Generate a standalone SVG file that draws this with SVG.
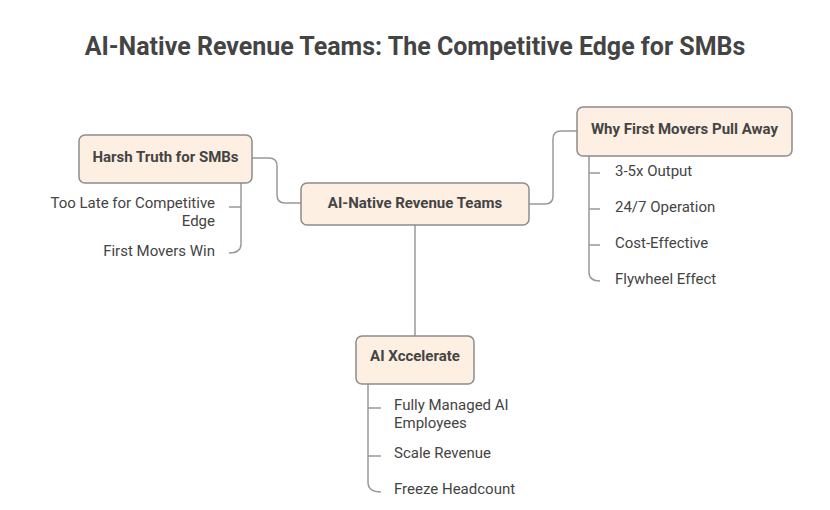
<svg xmlns="http://www.w3.org/2000/svg" width="830" height="510" viewBox="0 0 830 510">
<style>
.title{font-family:Roboto,"Liberation Sans",sans-serif;font-size:25px;font-weight:bold;fill:#444;text-anchor:middle}
.box{fill:#fdefe2;stroke:#8c8c8c;stroke-width:1.5}
.lbl{font-family:Roboto,"Liberation Sans",sans-serif;font-size:15px;font-weight:bold;fill:#444;text-anchor:middle;dominant-baseline:central}
.item{font-family:Roboto,"Liberation Sans",sans-serif;font-size:15px;fill:#444;dominant-baseline:central}
.r{text-anchor:end}
.ln{fill:none;stroke:#999;stroke-width:1.5}
</style>
<rect width="830" height="510" fill="#fff"/>
<text class="title" x="415" y="55">AI-Native Revenue Teams: The Competitive Edge for SMBs</text>
<g id="connectors">
<path class="ln" d="M252,158 H269 Q277,158 277,166 V195 Q277,203 285,203 H301"/>
<path class="ln" d="M529,204 H545 Q553,204 553,196 V139 Q553,131 561,131 H577"/>
<path class="ln" d="M415,225 V336"/>
<path class="ln" d="M241,183 V244 Q241,253 229,253 M241,207 H229"/>
<path class="ln" d="M589,156 V272 Q589,281 600,281 M589,173 H600 M589,209 H600 M589,245 H600"/>
<path class="ln" d="M368,384 V482 Q368,492 381,492 M368,408 H381 M368,456 H381"/>
</g>
<g id="harsh">
<rect class="box" x="79" y="135" width="173" height="48" rx="6"/>
<text class="lbl" x="165.5" y="157">Harsh Truth for SMBs</text>
<text class="item r" x="215" y="203">Too Late for Competitive</text>
<text class="item r" x="215" y="221">Edge</text>
<text class="item r" x="215" y="251">First Movers Win</text>
</g>
<g id="ainative">
<rect class="box" x="301" y="183" width="228" height="42" rx="6"/>
<text class="lbl" x="415" y="203">AI-Native Revenue Teams</text>
</g>
<g id="why">
<rect class="box" x="577" y="107" width="215" height="49" rx="6"/>
<text class="lbl" x="684.5" y="129">Why First Movers Pull Away</text>
<text class="item" x="615" y="171">3-5x Output</text>
<text class="item" x="615" y="207">24/7 Operation</text>
<text class="item" x="615" y="243">Cost-Effective</text>
<text class="item" x="615" y="279">Flywheel Effect</text>
</g>
<g id="aix">
<rect class="box" x="356" y="336" width="118" height="48" rx="6"/>
<text class="lbl" x="415" y="356">AI Xccelerate</text>
<text class="item" x="394" y="405">Fully Managed AI</text>
<text class="item" x="394" y="423">Employees</text>
<text class="item" x="394" y="453">Scale Revenue</text>
<text class="item" x="394" y="489">Freeze Headcount</text>
</g>
</svg>
